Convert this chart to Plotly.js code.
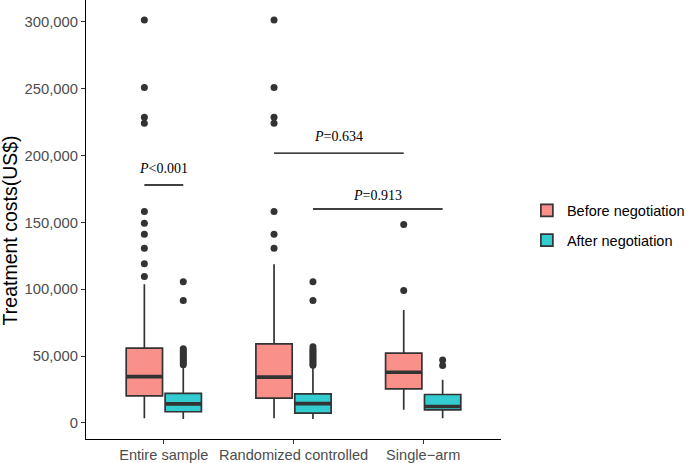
<!DOCTYPE html>
<html>
<head>
<meta charset="utf-8">
<script src="https://cdn.plot.ly/plotly-3.0.1.min.js"></script>
<style>html,body{margin:0;padding:0;background:#fff;}#chart{width:690px;height:463px;}</style>
</head>
<body>
<div id="chart"></div>
<script>
// ---- data ----
const categories = ['Entire sample', 'Randomized controlled', 'Single\u2212arm'];
const seriesNames = ['Before negotiation', 'After negotiation'];

// Before negotiation (box statistics, US$)
const beforeLower  = [3500, 3500, 9700];
const beforeQ1     = [20200, 18500, 25400];
const beforeMedian = [34600, 34200, 37900];
const beforeQ3     = [55900, 59100, 52100];
const beforeUpper  = [103700, 118700, 84500];
const beforeOutliers = [
  [109500, 119000, 130700, 141200, 149400, 158100, 224200, 228700, 250900, 301500],
  [130700, 141200, 158100, 224200, 228700, 250900, 301500],
  [99000, 148500]
];

// After negotiation
const afterLower  = [2800, 2800, 3500];
const afterQ1     = [8300, 7200, 9700];
const afterMedian = [14200, 14400, 12200];
const afterQ3     = [22000, 21700, 21200];
const afterUpper  = [41500, 42000, 32200];
const afterOutliers = [
  [43500, 45000, 46500, 48000, 49500, 51000, 52500, 54000, 55500, 91500, 105500],
  [43000, 44500, 46000, 47500, 49000, 50500, 52000, 53500, 55000, 57000, 91500, 105500],
  [42900, 47100]
];

// significance annotations
const pLabels   = ['<i>P</i><0.001', '<i>P</i>=0.634', '<i>P</i>=0.913'];
const pFromCat  = [0, 1, 1];   // category index of left end
const pFromSer  = [0, 0, 1];   // series index of left end
const pToCat    = [0, 2, 2];
const pToSer    = [1, 0, 1];
const pBarY     = [178000, 201800, 160000];
const pTextY    = [190000, 214000, 170000];

const yTitle = 'Treatment costs(US$)';

// ---- layout constants ----
const offsets = [-0.15, 0.15];
const boxW = 0.28;
const fills = ['#F9918A', '#33CCD0'];
const edge = '#333333';

const pos = (ci, si) => ci + 1 + offsets[si];

const stats = [
  {lo: beforeLower, q1: beforeQ1, med: beforeMedian, q3: beforeQ3, hi: beforeUpper, out: beforeOutliers},
  {lo: afterLower, q1: afterQ1, med: afterMedian, q3: afterQ3, hi: afterUpper, out: afterOutliers}
];

const traces = [];
stats.forEach((s, si) => {
  const xs = categories.map((c, ci) => pos(ci, si));
  traces.push({
    type: 'box', name: seriesNames[si], x: xs,
    q1: s.q1, median: s.med, q3: s.q3, lowerfence: s.lo, upperfence: s.hi,
    boxpoints: false, width: boxW, whiskerwidth: 0,
    fillcolor: fills[si], line: {color: edge, width: 1.7},
    legendgroup: 'g' + si, hoverinfo: 'skip'
  });
  // thicker median line overlay
  traces.push({
    type: 'box', name: seriesNames[si] + ' median', x: xs,
    q1: s.med, median: s.med, q3: s.med, lowerfence: s.med, upperfence: s.med,
    boxpoints: false, width: boxW, whiskerwidth: 0,
    fillcolor: 'rgba(0,0,0,0)', line: {color: edge, width: 3.6},
    showlegend: false, hoverinfo: 'skip', legendgroup: 'g' + si
  });
  const ox = [], oy = [];
  s.out.forEach((arr, ci) => arr.forEach(v => { ox.push(pos(ci, si)); oy.push(v); }));
  traces.push({
    type: 'scatter', mode: 'markers', x: ox, y: oy,
    marker: {color: edge, size: 7}, showlegend: false, hoverinfo: 'skip',
    legendgroup: 'g' + si
  });
});

const shapes = [], annotations = [];
pLabels.forEach((lab, i) => {
  const x0 = pos(pFromCat[i], pFromSer[i]);
  const x1 = pos(pToCat[i], pToSer[i]);
  shapes.push({type: 'line', xref: 'x', yref: 'y', x0: x0, x1: x1, y0: pBarY[i], y1: pBarY[i],
               line: {color: '#000', width: 1.4}});
  annotations.push({xref: 'x', yref: 'y', x: (x0 + x1) / 2, y: pTextY[i], text: lab,
                    showarrow: false, font: {family: 'Liberation Serif, Times New Roman, serif', size: 14, color: '#000'}});
});
annotations.push({xref: 'paper', yref: 'paper', x: -0.1823, y: 0.476, text: yTitle, textangle: -90,
                  showarrow: false, xanchor: 'center', yanchor: 'middle',
                  font: {size: 19.5, color: '#000'}});

const layout = {
  width: 690, height: 463,
  margin: {l: 86, r: 187, t: 0, b: 24},
  paper_bgcolor: '#fff', plot_bgcolor: '#fff',
  font: {family: 'Liberation Sans, Arial, sans-serif', color: '#000'},
  xaxis: {
    range: [0.4, 3.6], tickvals: [1, 2, 3], ticktext: categories,
    showgrid: false, zeroline: false, showline: true, linecolor: '#000', linewidth: 1,
    ticks: 'outside', ticklen: 4, tickcolor: '#333', tickwidth: 1, ticklabelstandoff: -2,
    tickfont: {size: 14.6, color: '#4D4D4D'}, automargin: false
  },
  yaxis: {
    range: [-12100, 316400], tickvals: [0, 50000, 100000, 150000, 200000, 250000, 300000],
    tickformat: ',', showgrid: false, zeroline: false, showline: true, linecolor: '#000', linewidth: 1,
    ticks: 'outside', ticklen: 4, tickcolor: '#333', tickwidth: 1,
    tickfont: {size: 14.8, color: '#4D4D4D'}, automargin: false
  },
  showlegend: true,
  legend: {x: 1.0624, xanchor: 'left', y: 0.4866, yanchor: 'middle',
           font: {size: 14.5, color: '#000'}, traceorder: 'grouped', tracegroupgap: 8,
           bgcolor: 'rgba(0,0,0,0)'},
  shapes: shapes, annotations: annotations
};

Plotly.newPlot('chart', traces, layout, {displayModeBar: false, staticPlot: true});
</script>
</body>
</html>
